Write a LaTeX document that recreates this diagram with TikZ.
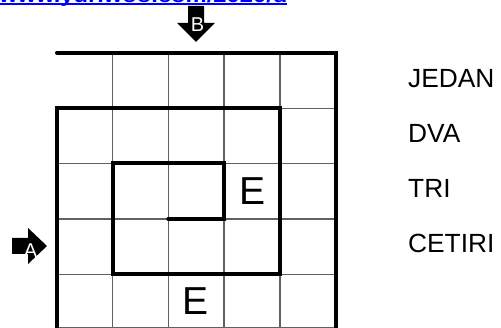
\documentclass[tikz,border=0pt]{standalone}
\usepackage{fontspec}
\setmainfont{Liberation Sans}
\begin{document}
\begin{tikzpicture}[x=1pt,y=-1pt,
  thin grid/.style={draw=black!62,line width=1.4pt},
  thick wall/.style={draw=black,line width=4pt,line cap=round,line join=miter},
  word/.style={inner sep=0pt,anchor=base west,font=\fontsize{26.3}{30}\selectfont},
  bigletter/.style={inner sep=0pt,anchor=base,font=\fontsize{39}{45}\selectfont},
  arrowletter/.style={inner sep=0pt,anchor=base,text=white,font=\fontsize{20}{22}\selectfont},
  entry/.style={fill=black,draw=none}]
\clip (0,0) rectangle (501,328);
\useasboundingbox (0,0) rectangle (501,328);
% URL at top (mostly cut off)
\node[inner sep=0pt,anchor=base west,text=blue,font=\bfseries\fontsize{19}{22}\selectfont] (url) at (-1,2.8) {\scalebox{1.25}[1]{www.yuriwoo.com/2020/d}};
\draw[blue,line width=1.9pt] (0,4.3) -- (287,4.3);
% thin grid
\foreach \x in {112.7,168.3,224,280} \draw[thin grid] (\x,52.7) -- (\x,331);
\foreach \y in {108.3,163.3,219,274.3} \draw[thin grid] (57,\y) -- (335.7,\y);
\draw[thin grid] (57,327.5) -- (335.7,327.5);
\draw[thin grid] (57,108.3) -- (57,331);
% thick walls
\draw[thick wall] (57,52.7) -- (335.7,52.7) -- (335.7,335);
\draw[thick wall] (57,335) -- (57,108.3) -- (280,108.3) -- (280,274.3) -- (112.7,274.3) -- (112.7,163.3) -- (224,163.3) -- (224,219) -- (168.3,219);
% letters in grid
\node[bigletter] (e1) at (252.5,205) {E};
\node[bigletter] (e2) at (196,315) {E};
% entry arrows
\fill[entry] (188,6) -- (204,6) -- (204,23) -- (215,23) -- (196,42) -- (177,23) -- (188,23) -- cycle;
\node[arrowletter] (b) at (197.5,32) {B};
\fill[entry] (12,238) -- (28,238) -- (28,228) -- (47,246) -- (28,264) -- (28,254) -- (12,254) -- cycle;
\node[arrowletter] (a) at (30.5,257.5) {A};
% word list
\node[word] (w1) at (408,88) {JEDAN};
\node[word] (w2) at (408,143) {DVA};
\node[word] (w3) at (408,198) {TRI};
\node[word] (w4) at (408,253) {CETIRI};
\end{tikzpicture}
\end{document}
